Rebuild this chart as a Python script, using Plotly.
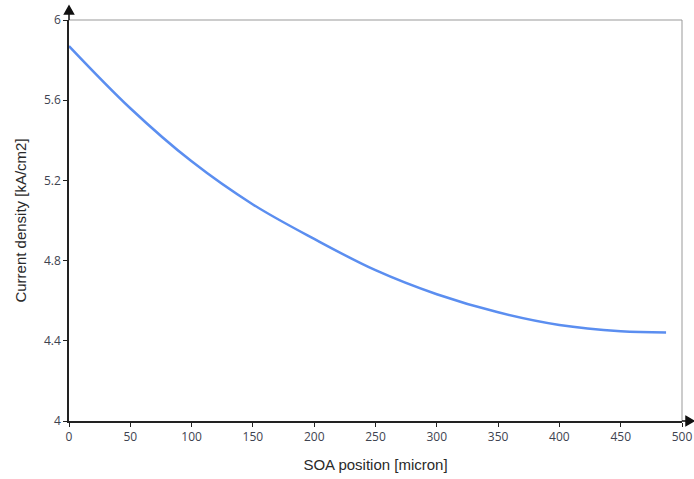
import plotly.graph_objects as go

# Current density profile along the SOA length
position_um = [0, 50, 100, 150, 200, 250, 300, 350, 400, 450, 487]
current_density = [5.87, 5.56, 5.295, 5.08, 4.908, 4.752, 4.632, 4.542, 4.479, 4.448, 4.442]

x_ticks = [0, 50, 100, 150, 200, 250, 300, 350, 400, 450, 500]
y_ticks = [4, 4.4, 4.8, 5.2, 5.6, 6]

fig = go.Figure()
fig.add_trace(go.Scatter(
    x=position_um, y=current_density, mode="lines",
    line=dict(color="#5b8ef0", width=2.5, shape="spline", smoothing=1.0),
    hoverinfo="x+y", showlegend=False,
))

tick_font = dict(family="Open Sans, sans-serif", size=12, color="#3e4350")
title_font = dict(family="Liberation Sans, Arial, sans-serif", size=15, color="#2a2a2a")

fig.update_layout(
    width=694, height=479,
    margin=dict(l=69, r=12, t=20, b=58, autoexpand=False),
    paper_bgcolor="white", plot_bgcolor="white",
    xaxis=dict(
        range=[0, 500], tickvals=x_ticks, ticktext=[str(v) for v in x_ticks],
        showgrid=False, zeroline=False, showline=True, linecolor="#222222", linewidth=1.5,
        ticks="outside", ticklen=4, tickcolor="#222222", tickfont=tick_font,
        title=dict(text="SOA position [micron]", font=title_font, standoff=15),
    ),
    yaxis=dict(
        range=[4, 6], tickvals=y_ticks, ticktext=["4", "4.4", "4.8", "5.2", "5.6", "6"],
        showgrid=False, zeroline=False, showline=True, linecolor="#222222", linewidth=1.5,
        ticks="outside", ticklen=4, tickcolor="#222222", tickfont=tick_font,
        title=dict(text="Current density [kA/cm2]", font=title_font, standoff=14),
    ),
)

# thin grey frame on the top and right sides
fig.add_shape(type="line", xref="paper", yref="paper", x0=0, x1=1, y0=1, y1=1,
              line=dict(color="#999999", width=1), layer="below")
fig.add_shape(type="line", xref="paper", yref="paper", x0=1, x1=1, y0=0, y1=1,
              line=dict(color="#999999", width=1), layer="below")

# axis extensions ending in arrow heads (pixel offsets from the axis ends)
fig.add_shape(type="path", xref="paper", yref="paper", xsizemode="pixel", ysizemode="pixel",
              xanchor=0, yanchor=1, path="M 0 0 L 0 8 M -4.5 6 L 0 14 L 4.5 6 Z",
              line=dict(color="#111111", width=1.5), fillcolor="#111111", layer="above")
fig.add_shape(type="path", xref="paper", yref="paper", xsizemode="pixel", ysizemode="pixel",
              xanchor=1, yanchor=0, path="M 0 0 L 6 0 M 4 4.5 L 12 0 L 4 -4.5 Z",
              line=dict(color="#111111", width=1.5), fillcolor="#111111", layer="above")

fig.write_html("out.html")
